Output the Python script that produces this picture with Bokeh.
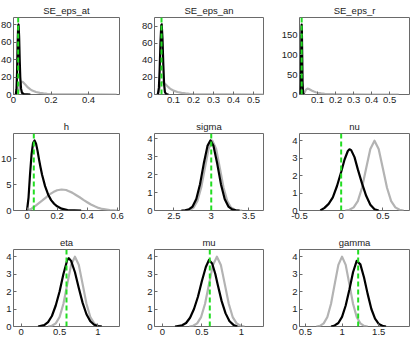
from bokeh.plotting import figure
from bokeh.layouts import gridplot
from bokeh.models import FixedTicker, Span
from bokeh.embed import file_html
from bokeh.resources import INLINE

# ---- parameter names (panel titles) ----
titles = ["SE_eps_at", "SE_eps_an", "SE_eps_r", "h", "sigma", "nu", "eta", "mu", "gamma"]

# ---- prior densities (grey) ----
se_prior_x = [0.015, 0.02, 0.025, 0.03, 0.035, 0.04, 0.045, 0.05, 0.06, 0.07, 0.08, 0.09,
              0.10, 0.12, 0.14, 0.16, 0.18, 0.20, 0.25, 0.30, 0.40, 0.55]
se_prior_y = [0.0, 0.4, 2.5, 7.0, 11.5, 14.0, 14.7, 14.2, 12.0, 9.6, 7.5, 5.8,
              4.5, 2.9, 1.9, 1.25, 0.85, 0.6, 0.25, 0.12, 0.03, 0.0]

h_prior_x = [0.0, 0.03, 0.06, 0.1, 0.125, 0.15, 0.175, 0.2, 0.23, 0.26, 0.275, 0.3, 0.325,
             0.35, 0.375, 0.4, 0.425, 0.45, 0.475, 0.5, 0.55, 0.6]
h_prior_y = [0.0, 0.35, 1.0, 1.9, 2.5, 3.1, 3.55, 3.9, 4.05, 3.95, 3.75, 3.45, 3.0,
             2.55, 2.05, 1.6, 1.15, 0.8, 0.5, 0.3, 0.07, 0.0]

sigma_prior_x = [2.615, 2.665, 2.715, 2.765, 2.815, 2.865, 2.915, 2.965, 3.015, 3.065,
                 3.115, 3.165, 3.215, 3.265, 3.315, 3.365, 3.415]
sigma_prior_y = [0.0, 0.01, 0.04, 0.17, 0.53, 1.27, 2.37, 3.45, 3.9, 3.45,
                 2.37, 1.27, 0.53, 0.17, 0.04, 0.01, 0.0]

nu_prior_x = [0.05, 0.1, 0.15, 0.2, 0.25, 0.3, 0.35, 0.4, 0.45, 0.5, 0.55, 0.6, 0.65, 0.7, 0.75]
nu_prior_y = [0.0, 0.04, 0.18, 0.54, 1.30, 2.42, 3.52, 3.99, 3.52, 2.42, 1.30, 0.54, 0.18, 0.04, 0.0]

eta_prior_x = [0.35, 0.4, 0.45, 0.5, 0.55, 0.6, 0.65, 0.7, 0.75, 0.8, 0.85, 0.9, 0.95, 1.0, 1.05]
eta_prior_y = [0.0, 0.04, 0.18, 0.54, 1.30, 2.42, 3.52, 3.99, 3.52, 2.42, 1.30, 0.54, 0.18, 0.04, 0.0]

mu_prior_x = [0.34, 0.39, 0.44, 0.49, 0.54, 0.59, 0.64, 0.69, 0.74, 0.79, 0.84, 0.89, 0.94, 0.99, 1.04]
mu_prior_y = [0.0, 0.04, 0.18, 0.54, 1.30, 2.42, 3.52, 3.99, 3.52, 2.42, 1.30, 0.54, 0.18, 0.04, 0.0]

gamma_prior_x = [0.65, 0.7, 0.75, 0.8, 0.85, 0.9, 0.95, 1.0, 1.05, 1.1, 1.15, 1.2, 1.25, 1.3, 1.35]
gamma_prior_y = [0.0, 0.04, 0.18, 0.54, 1.30, 2.42, 3.52, 3.99, 3.52, 2.42, 1.30, 0.54, 0.18, 0.04, 0.0]

# ---- posterior densities (black) ----
at_post_x = [0.012, 0.016, 0.019, 0.022, 0.025, 0.027, 0.030, 0.033, 0.036, 0.040, 0.045, 0.055, 0.090]
at_post_y = [0.0, 6.0, 25.0, 58.0, 79.0, 80.0, 66.0, 40.0, 20.0, 7.0, 2.0, 0.4, 0.0]

an_post_x = [0.022, 0.027, 0.031, 0.035, 0.039, 0.041, 0.045, 0.049, 0.053, 0.057, 0.063, 0.075]
an_post_y = [0.0, 8.0, 30.0, 62.0, 81.0, 82.0, 65.0, 35.0, 12.0, 3.0, 0.5, 0.0]

r_post_x = [0.004, 0.007, 0.009, 0.011, 0.012, 0.013, 0.015, 0.017, 0.020, 0.025]
r_post_y = [0.0, 30.0, 100.0, 165.0, 176.0, 165.0, 100.0, 30.0, 3.0, 0.0]

h_post_x = [0.0, 0.01, 0.02, 0.03, 0.04, 0.05, 0.06, 0.07, 0.08, 0.09, 0.10, 0.12, 0.14,
            0.16, 0.18, 0.20, 0.23, 0.27, 0.36]
h_post_y = [0.0, 2.5, 7.0, 10.8, 13.0, 13.5, 12.9, 11.5, 9.8, 8.3, 6.9, 4.7, 3.1,
            2.0, 1.3, 0.8, 0.35, 0.1, 0.0]

sigma_post_x = [2.6, 2.65, 2.7, 2.75, 2.8, 2.85, 2.9, 2.95, 2.99, 3.03, 3.08, 3.13, 3.18,
                3.23, 3.28, 3.33, 3.38]
sigma_post_y = [0.0, 0.01, 0.06, 0.22, 0.64, 1.47, 2.62, 3.61, 3.92, 3.61, 2.62, 1.47, 0.64,
                0.22, 0.06, 0.01, 0.0]

nu_post_x = [-0.25, -0.2, -0.15, -0.1, -0.05, 0.0, 0.04, 0.08, 0.1, 0.12, 0.16, 0.2, 0.25,
             0.3, 0.35, 0.4, 0.45]
nu_post_y = [0.0, 0.15, 0.38, 0.75, 1.4, 2.2, 2.9, 3.4, 3.5, 3.45, 3.05, 2.35, 1.55,
             0.84, 0.33, 0.07, 0.0]

eta_post_x = [0.22, 0.3, 0.35, 0.4, 0.45, 0.5, 0.55, 0.6, 0.62, 0.65, 0.7, 0.75, 0.8,
              0.85, 0.9, 0.95, 1.0, 1.05]
eta_post_y = [0.0, 0.08, 0.25, 0.6, 1.2, 2.0, 3.0, 3.8, 3.9, 3.75, 3.1, 2.2, 1.35,
              0.7, 0.3, 0.1, 0.02, 0.0]

mu_post_x = [0.16, 0.25, 0.3, 0.35, 0.4, 0.45, 0.5, 0.55, 0.59, 0.63, 0.67, 0.7, 0.75,
             0.8, 0.85, 0.9, 0.95]
mu_post_y = [0.0, 0.07, 0.2, 0.5, 1.0, 1.7, 2.6, 3.4, 3.8, 3.6, 3.0, 2.4, 1.45,
             0.75, 0.3, 0.09, 0.0]

gamma_post_x = [0.85, 0.9, 0.95, 1.0, 1.05, 1.1, 1.15, 1.2, 1.25, 1.3, 1.35, 1.4, 1.45,
                1.5, 1.55, 1.6]
gamma_post_y = [0.0, 0.06, 0.2, 0.55, 1.2, 2.1, 3.1, 3.75, 3.55, 2.8, 1.85, 1.0, 0.45,
                0.15, 0.04, 0.0]

# ---- posterior modes (green dashed) ----
modes = [0.025, 0.04, 0.012, 0.045, 3.0, 0.0, 0.59, 0.6, 1.22]

# ---- tick values and labels ----
x_ticks = [[0, 0.2, 0.4], [0.1, 0.2, 0.3, 0.4, 0.5], [0.1, 0.2, 0.3, 0.4, 0.5],
           [0, 0.2, 0.4, 0.6], [2.5, 3, 3.5], [-0.5, 0, 0.5],
           [0, 0.5, 1], [0, 0.5, 1], [0.5, 1, 1.5]]
x_labels = [["0", "0.2", "0.4"], ["0.1", "0.2", "0.3", "0.4", "0.5"], ["0.1", "0.2", "0.3", "0.4", "0.5"],
            ["0", "0.2", "0.4", "0.6"], ["2.5", "3", "3.5"], ["-0.5", "0", "0.5"],
            ["0", "0.5", "1"], ["0", "0.5", "1"], ["0.5", "1", "1.5"]]
y_ticks = [[0, 20, 40, 60, 80], [0, 20, 40, 60, 80], [0, 50, 100, 150],
           [0, 5, 10], [0, 1, 2, 3, 4], [0, 1, 2, 3, 4],
           [0, 1, 2, 3, 4], [0, 1, 2, 3, 4], [0, 1, 2, 3, 4]]

priors = [(se_prior_x, se_prior_y), (se_prior_x, se_prior_y), (se_prior_x, se_prior_y),
          (h_prior_x, h_prior_y), (sigma_prior_x, sigma_prior_y), (nu_prior_x, nu_prior_y),
          (eta_prior_x, eta_prior_y), (mu_prior_x, mu_prior_y), (gamma_prior_x, gamma_prior_y)]
posts = [(at_post_x, at_post_y), (an_post_x, an_post_y), (r_post_x, r_post_y),
         (h_post_x, h_post_y), (sigma_post_x, sigma_post_y), (nu_post_x, nu_post_y),
         (eta_post_x, eta_post_y), (mu_post_x, mu_post_y), (gamma_post_x, gamma_post_y)]

# axis limits for each panel
x_lims = [(0.0, 0.565), (0.005, 0.55), (0.0, 0.61),
          (-0.09, 0.615), (2.24, 3.70), (-0.5, 0.82),
          (-0.1, 1.28), (-0.1, 1.28), (0.42, 1.92)]
y_lims = [(0, 88), (0, 90), (0, 194),
          (0, 14.85), (0, 4.3), (0, 4.4),
          (0, 4.4), (0, 4.4), (0, 4.4)]

FONT = "Liberation Sans"
GREY = "#b3b3b3"
GREEN = "#22dd22"
FRAME = "#6a6a6a"

# the grid is nudged left so the first column's tick labels run off the edge
SHIFT = 9
col_widths = [137 + SHIFT, 136, 137]
col_left = [10 + SHIFT, 17, 26]
col_right = [18, 10, 1]


def make_panel(i):
    col = i % 3
    left = col_left[col]
    if i == 0:
        left = 13 + SHIFT
    p = figure(width=col_widths[col], height=116,
               x_range=x_lims[i], y_range=y_lims[i],
               output_backend="svg", toolbar_location=None,
               min_border_left=left, min_border_right=col_right[col],
               min_border_top=15, min_border_bottom=22,
               title=titles[i])
    p.title.align = "center"
    p.title.text_font = FONT
    p.title.text_font_size = "9.5px"
    p.title.text_font_style = "normal"
    p.title.text_color = "#222222"
    p.title.standoff = 4

    px, py = priors[i]
    p.line(px, py, line_color=GREY, line_width=2.2, line_join="round")
    qx, qy = posts[i]
    p.line(qx, qy, line_color="black", line_width=2.2, line_join="round")
    p.add_layout(Span(location=modes[i], dimension="height",
                      line_color=GREEN, line_width=2, line_dash="5 3"))

    p.grid.visible = False
    p.outline_line_color = FRAME
    p.outline_line_width = 1
    p.background_fill_color = "white"
    p.border_fill_color = "white"

    p.xaxis.ticker = FixedTicker(ticks=x_ticks[i])
    p.xaxis.major_label_overrides = {t: s for t, s in zip(x_ticks[i], x_labels[i])}
    p.yaxis.ticker = FixedTicker(ticks=y_ticks[i])
    p.yaxis.major_label_overrides = {t: str(t) for t in y_ticks[i]}
    for ax in (p.xaxis, p.yaxis):
        ax.axis_line_color = None
        ax.major_tick_in = 3
        ax.major_tick_out = 0
        ax.major_tick_line_color = FRAME
        ax.minor_tick_line_color = None
        ax.major_label_standoff = 2
        ax.major_label_text_font = FONT
        ax.major_label_text_font_size = "9.5px"
        ax.major_label_text_color = "#222222"
    return p


panels = [make_panel(i) for i in range(9)]
grid = gridplot([panels[0:3], panels[3:6], panels[6:9]], toolbar_location=None)
grid.styles = {"margin-left": f"-{SHIFT}px"}

open("out.html", "w").write(file_html(grid, INLINE))
